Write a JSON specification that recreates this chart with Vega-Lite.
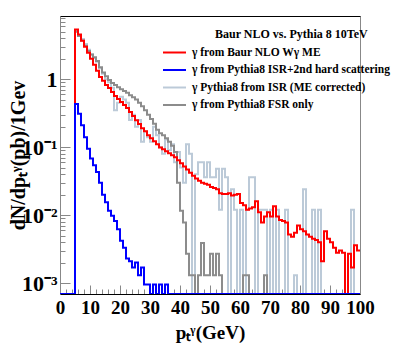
{
"$schema": "https://vega.github.io/schema/vega-lite/v6.json",
"width": 300, "height": 278,
"autosize": "none",
"padding": {"left": 60, "top": 16, "right": 40, "bottom": 61},
"background": "white",
"config": {"view": {"stroke": "#888", "strokeWidth": 1}, "font": "Liberation Serif"},
"title": {"text": "Baur NLO vs. Pythia 8 10TeV", "anchor": "start", "frame": "group", "dx": 155, "dy": 29, "font": "Liberation Serif", "fontWeight": "bold", "fontSize": 12, "color": "black"},
"resolve": {"axis": {"x": "independent"}},
"layer": [
{
"data": {"values": [
{"x":0,"r":0,"b":0,"i":0,"f":0},{"x":1,"r":0,"b":0,"i":0,"f":0},{"x":2,"r":0,"b":0,"i":0,"f":0},{"x":3,"r":0,"b":0,"i":0,"f":0},{"x":4,"r":0,"b":0,"i":0,"f":0},
{"x":5,"r":5.37,"b":0.43,"i":5.2,"f":5.0},{"x":6,"r":4.53,"b":0.31,"i":4.4,"f":4.3},{"x":7,"r":3.69,"b":0.21,"i":3.9,"f":3.7},{"x":8,"r":3.01,"b":0.14,"i":3.3,"f":3.1},{"x":9,"r":2.45,"b":0.095,"i":2.7,"f":2.6},
{"x":10,"r":2.0,"b":0.068,"i":2.3,"f":2.3},{"x":11,"r":1.63,"b":0.054,"i":2.05,"f":2.1},{"x":12,"r":1.33,"b":0.043,"i":1.8,"f":1.85},{"x":13,"r":1.08,"b":0.03,"i":1.45,"f":1.5},{"x":14,"r":0.944,"b":0.02,"i":1.2,"f":1.25},
{"x":15,"r":0.824,"b":0.0154,"i":1.0,"f":1.1},{"x":16,"r":0.743,"b":0.0116,"i":0.9,"f":0.97},{"x":17,"r":0.648,"b":0.0098,"i":0.75,"f":0.88},{"x":18,"r":0.566,"b":0.0082,"i":0.35,"f":0.82},{"x":19,"r":0.511,"b":0.0062,"i":0.45,"f":0.76},
{"x":20,"r":0.461,"b":0.0042,"i":0.55,"f":0.71},{"x":21,"r":0.416,"b":0.0033,"i":0.5,"f":0.67},{"x":22,"r":0.376,"b":0.0023,"i":0.45,"f":0.63},{"x":23,"r":0.328,"b":0.0021,"i":0.25,"f":0.58},{"x":24,"r":0.286,"b":0.0017,"i":0.3,"f":0.54},
{"x":25,"r":0.249,"b":0.002,"i":0.2,"f":0.5},{"x":26,"r":0.218,"b":0.0013,"i":0.25,"f":0.45},{"x":27,"r":0.19,"b":0.0017,"i":0.12,"f":0.4},{"x":28,"r":0.171,"b":0.00095,"i":0.17,"f":0.35},{"x":29,"r":0.15,"b":0.00095,"i":0.14,"f":0.3},
{"x":30,"r":0.135,"b":0,"i":0.12,"f":0.26},{"x":31,"r":0.122,"b":0.00095,"i":0.2,"f":0.22},{"x":32,"r":0.11,"b":0,"i":0.15,"f":0.18},{"x":33,"r":0.099,"b":0.00095,"i":0.1,"f":0.16},{"x":34,"r":0.093,"b":0,"i":0.08,"f":0.15},
{"x":35,"r":0.087,"b":0.00095,"i":0.13,"f":0.135},{"x":36,"r":0.081,"b":0,"i":0.09,"f":0.12},{"x":37,"r":0.076,"b":0,"i":0.11,"f":0.105},{"x":38,"r":0.071,"b":0,"i":0.06,"f":0.085},{"x":39,"r":0.064,"b":0,"i":0.085,"f":0.03},
{"x":40,"r":0.058,"b":0,"i":0.05,"f":0.0116},{"x":41,"r":0.052,"b":0,"i":0.03,"f":0.0078},{"x":42,"r":0.047,"b":0,"i":0.11,"f":0.0027},{"x":43,"r":0.042,"b":0,"i":0.08,"f":0.0013},{"x":44,"r":0.038,"b":0,"i":0,"f":0.0013},
{"x":45,"r":0.0345,"b":0,"i":0.04,"f":0},{"x":46,"r":0.032,"b":0,"i":0.06,"f":0.0013},{"x":47,"r":0.03,"b":0,"i":0.06,"f":0.0039},{"x":48,"r":0.029,"b":0,"i":0.036,"f":0.0013},{"x":49,"r":0.028,"b":0,"i":0.06,"f":0.0013},
{"x":50,"r":0.026,"b":0,"i":0.036,"f":0.0027},{"x":51,"r":0.025,"b":0,"i":0.036,"f":0.0013},{"x":52,"r":0.024,"b":0,"i":0.048,"f":0.0027},{"x":53,"r":0.021,"b":0,"i":0.012,"f":0.0013},{"x":54,"r":0.0205,"b":0,"i":0.048,"f":0},
{"x":55,"r":0.0205,"b":0,"i":0.036,"f":0},{"x":56,"r":0.021,"b":0,"i":0,"f":0},{"x":57,"r":0.0195,"b":0,"i":0.024,"f":0},{"x":58,"r":0.02,"b":0,"i":0.012,"f":0},{"x":59,"r":0.0205,"b":0,"i":0,"f":0},
{"x":60,"r":0.015,"b":0,"i":0.012,"f":0},{"x":61,"r":0.014,"b":0,"i":0,"f":0.0013},{"x":62,"r":0.012,"b":0,"i":0.012,"f":0.0013},{"x":63,"r":0.0125,"b":0,"i":0.036,"f":0},{"x":64,"r":0.013,"b":0,"i":0.036,"f":0},
{"x":65,"r":0.016,"b":0,"i":0,"f":0},{"x":66,"r":0.011,"b":0,"i":0.012,"f":0},{"x":67,"r":0.0078,"b":0,"i":0.012,"f":0},{"x":68,"r":0.0095,"b":0,"i":0.012,"f":0.0013},{"x":69,"r":0.011,"b":0,"i":0,"f":0},
{"x":70,"r":0.0095,"b":0,"i":0.012,"f":0},{"x":71,"r":0.0135,"b":0,"i":0,"f":0},{"x":72,"r":0.0095,"b":0,"i":0.012,"f":0},{"x":73,"r":0.0085,"b":0,"i":0,"f":0},{"x":74,"r":0.0082,"b":0,"i":0,"f":0},
{"x":75,"r":0.0078,"b":0,"i":0.012,"f":0},{"x":76,"r":0.0052,"b":0,"i":0,"f":0},{"x":77,"r":0.0048,"b":0,"i":0,"f":0},{"x":78,"r":0.0055,"b":0,"i":0.0013,"f":0},{"x":79,"r":0.007,"b":0,"i":0,"f":0},
{"x":80,"r":0.0062,"b":0,"i":0,"f":0},{"x":81,"r":0.0058,"b":0,"i":0.024,"f":0},{"x":82,"r":0.0052,"b":0,"i":0,"f":0},{"x":83,"r":0.0048,"b":0,"i":0,"f":0},{"x":84,"r":0.0045,"b":0,"i":0.012,"f":0},
{"x":85,"r":0.0043,"b":0,"i":0,"f":0},{"x":86,"r":0.004,"b":0,"i":0.012,"f":0},{"x":87,"r":0.0021,"b":0,"i":0,"f":0},{"x":88,"r":0.0058,"b":0,"i":0,"f":0},{"x":89,"r":0.0045,"b":0,"i":0,"f":0},
{"x":90,"r":0.004,"b":0,"i":0,"f":0},{"x":91,"r":0.0033,"b":0,"i":0,"f":0},{"x":92,"r":0.0028,"b":0,"i":0,"f":0},{"x":93,"r":0.003,"b":0,"i":0,"f":0},{"x":94,"r":0.0028,"b":0,"i":0,"f":0},
{"x":95,"r":0,"b":0,"i":0,"f":0},{"x":96,"r":0.0027,"b":0,"i":0,"f":0},{"x":97,"r":0.0017,"b":0,"i":0.012,"f":0},{"x":98,"r":0.0036,"b":0,"i":0,"f":0},{"x":99,"r":0.003,"b":0,"i":0,"f":0},
{"x":100,"r":0.003,"b":0,"i":0,"f":0}
]},
"transform": [{"fold": ["i", "f", "r", "b"], "as": ["s", "v"]}],
"mark": {"type": "line", "interpolate": "step-after", "strokeWidth": 2, "invalid": "show", "clip": true},
"encoding": {
"x": {"field": "x", "type": "quantitative",
 "scale": {"domain": [0, 100], "nice": false, "zero": false},
 "axis": {"values": [0,2,4,6,8,10,12,14,16,18,20,22,24,26,28,30,32,34,36,38,40,42,44,46,48,50,52,54,56,58,60,62,64,66,68,70,72,74,76,78,80,82,84,86,88,90,92,94,96,98,100],
  "labelExpr": "datum.value % 10 == 0 ? datum.label : ''", "grid": false,
  "tickSize": {"condition": {"test": "datum.value % 10 == 0", "value": -9}, "value": -5},
  "tickColor": "#888", "domainColor": "#000", "labelFont": "Liberation Serif", "labelFontWeight": "bold", "labelFontSize": 19, "labelColor": "#000", "labelPadding": 13, "labelFlush": false,
  "title": "pₜᵞ(GeV)", "titleFont": "Liberation Serif", "titleFontWeight": "bold", "titleFontSize": 19, "titleColor": "#000", "titleY": 44, "titleBaseline": "alphabetic"}},
"y": {"field": "v", "type": "quantitative",
 "scale": {"type": "log", "domain": [0.00069, 8.5], "nice": false, "clamp": true},
 "axis": {"values": [0.001,0.002,0.003,0.004,0.005,0.006,0.007,0.008,0.009,0.01,0.02,0.03,0.04,0.05,0.06,0.07,0.08,0.09,0.1,0.2,0.3,0.4,0.5,0.6,0.7,0.8,0.9,1,2,3,4,5,6,7,8],
  "labelExpr": "datum.value == 1 ? '1' : datum.value == 0.1 ? '10⁻¹' : datum.value == 0.01 ? '10⁻²' : datum.value == 0.001 ? '10⁻³' : ''", "grid": false,
  "tickSize": {"condition": {"test": "datum.value == 1 || datum.value == 0.1 || datum.value == 0.01 || datum.value == 0.001", "value": -10}, "value": -5},
  "tickColor": "#888", "domainColor": "#888", "labelFont": "Liberation Serif", "labelFontWeight": "bold", "labelFontSize": 22, "labelColor": "#000", "labelPadding": 13, "labelFlush": false,
  "title": "dN/dpₜᵞ(pb)/1Gev", "titleFont": "Liberation Serif", "titleFontWeight": "bold", "titleFontSize": 20, "titleColor": "#000", "titleX": -42, "titleY": 139, "titleAngle": -90, "titleAlign": "center", "titleBaseline": "middle"}},
"color": {"field": "s", "type": "nominal",
 "scale": {"domain": ["r", "b", "i", "f"], "range": ["#ff0000", "#0000ff", "#bccad8", "#8c8c8c"]},
 "legend": {"orient": "none", "legendX": 102, "legendY": 30, "title": null, "symbolType": "stroke", "symbolSize": 529, "symbolStrokeWidth": 2, "clipHeight": 13, "rowPadding": 4.5, "labelOffset": 5,
  "labelFont": "Liberation Serif", "labelFontWeight": "bold", "labelFontSize": 11.5, "labelColor": "#000", "labelLimit": 400,
  "labelExpr": "datum.label == 'r' ? 'γ from Baur NLO Wγ ME' : datum.label == 'b' ? 'γ from Pythia8 ISR+2nd hard scattering' : datum.label == 'i' ? 'γ Pythia8 from ISR (ME corrected)' : 'γ from Pythia8 FSR only'"}}
}
},
{
"data": {"values": [{"x0": 0}]},
"mark": {"type": "rule", "opacity": 0},
"encoding": {
"x": {"field": "x0", "type": "quantitative",
 "axis": {"orient": "top", "domainColor": "#000", "domainWidth": 1, "ticks": false, "labels": false, "title": null, "grid": false}}
}
}
]
}
